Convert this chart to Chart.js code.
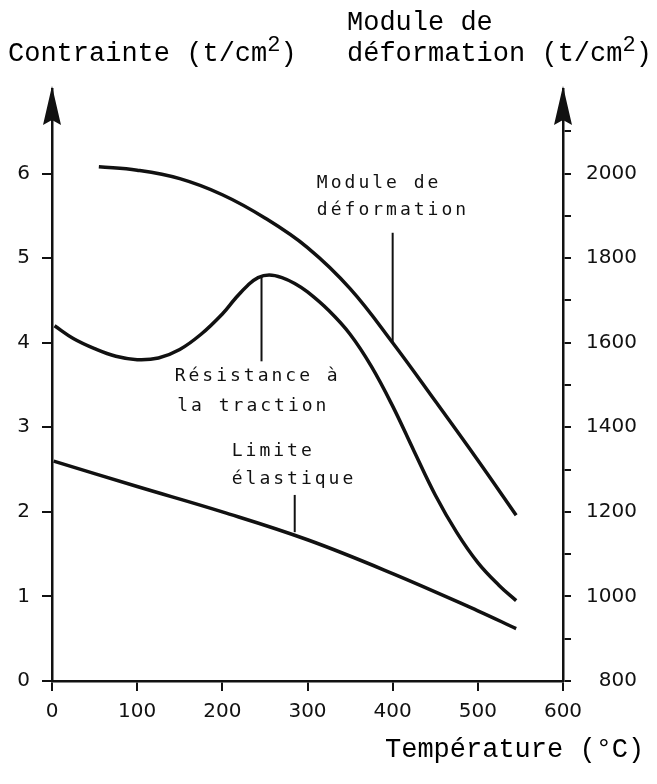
<!DOCTYPE html>
<html>
<head>
<meta charset="utf-8">
<script src="https://cdn.jsdelivr.net/npm/chart.js@4/dist/chart.umd.min.js"></script>
<style>
  html, body { margin: 0; padding: 0; background: #fff; }
  #wrap { position: relative; width: 657px; height: 784px; }
  #c { position: absolute; left: 0; top: 0; }
  .ttl { position: absolute; font-family: "Liberation Mono", monospace; font-size: 27px; line-height: 27px; color: #000; white-space: pre; }
  .ttl sup { font-size: 22px; vertical-align: 0; position: relative; top: -10px; }
</style>
</head>
<body>
<div id="wrap">
  <canvas id="c" width="657" height="784"></canvas>
  <div class="ttl" style="left:8px; top:41px">Contrainte (t/cm<sup>2</sup>)</div>
  <div class="ttl" style="left:347px; top:10px">Module de</div>
  <div class="ttl" style="left:347px; top:41px">déformation (t/cm<sup>2</sup>)</div>
  <div class="ttl" style="left:385px; top:737px">Température (°C)</div>
</div>
<script>
// axes
const tempTicks = [0, 100, 200, 300, 400, 500, 600];
const stressTicks = [0, 1, 2, 3, 4, 5, 6];
const modulusTicks = [800, 900, 1000, 1100, 1200, 1300, 1400, 1500, 1600, 1700, 1800, 1900, 2000, 2100];

// Module de déformation (t/cm2, right axis)
const modulusTemp = [55, 100, 150, 200, 250, 300, 350, 400, 450, 500, 545];
const modulusVals = [2016, 2008, 1988, 1950, 1895, 1825, 1728, 1600, 1462, 1322, 1192];

// Résistance à la traction (t/cm2, left axis)
const tensileTemp = [3, 25, 50, 75, 100, 125, 150, 175, 200, 215, 230, 242, 255, 270, 285, 300, 325, 350, 375, 400, 425, 450, 475, 500, 525, 545];
const tensileVals = [4.2, 4.05, 3.93, 3.84, 3.8, 3.82, 3.92, 4.1, 4.34, 4.52, 4.68, 4.77, 4.8, 4.77, 4.7, 4.6, 4.38, 4.1, 3.72, 3.25, 2.72, 2.2, 1.76, 1.4, 1.13, 0.95];

// Limite élastique (t/cm2, left axis)
const yieldTemp = [2, 100, 200, 300, 400, 500, 545];
const yieldVals = [2.6, 2.3, 2.0, 1.67, 1.27, 0.83, 0.62];

// curve labels, placed in data units (x = °C, y = left axis)
const noteTexts = [
  { x: 311, y: 5.89, text: 'Module de' },
  { x: 311, y: 5.57, text: 'déformation' },
  { x: 144, y: 3.60, text: 'Résistance à' },
  { x: 147, y: 3.25, text: 'la traction' },
  { x: 211, y: 2.71, text: 'Limite' },
  { x: 211, y: 2.38, text: 'élastique' }
];
const noteLeaders = [
  { x: 400, from: 5.30, to: 4.0 },
  { x: 246, from: 4.8, to: 3.78 },
  { x: 285, from: 2.20, to: 1.76 }
];

const ink = '#111';
const pts = (xs, ys) => xs.map((x, i) => ({ x, y: ys[i] }));

const arrowsAndNotes = {
  id: 'arrowsAndNotes',
  afterDraw(chart) {
    const { ctx, chartArea: a, scales } = chart;
    ctx.save();
    ctx.fillStyle = ink;
    [a.left, a.right].forEach(x => {
      ctx.beginPath();
      ctx.moveTo(x, a.top - 3);
      ctx.lineTo(x - 9, a.top + 36);
      ctx.lineTo(x, a.top + 31);
      ctx.lineTo(x + 9, a.top + 36);
      ctx.closePath();
      ctx.fill();
    });

    ctx.strokeStyle = ink;
    ctx.lineWidth = 2;
    noteLeaders.forEach(l => {
      const px = scales.x.getPixelForValue(l.x);
      ctx.beginPath();
      ctx.moveTo(px, scales.y.getPixelForValue(l.from));
      ctx.lineTo(px, scales.y.getPixelForValue(l.to));
      ctx.stroke();
    });

    ctx.font = '18px "DejaVu Sans Mono"';
    ctx.letterSpacing = '3px';
    ctx.textAlign = 'left';
    ctx.textBaseline = 'middle';
    noteTexts.forEach(n => {
      ctx.fillText(n.text, scales.x.getPixelForValue(n.x), scales.y.getPixelForValue(n.y));
    });
    ctx.restore();
  }
};

const tickFont = { family: 'DejaVu Sans', size: 20 };
const curve = { borderColor: ink, borderWidth: 3.5, pointRadius: 0, tension: 0.4, fill: false };

new Chart(document.getElementById('c'), {
  type: 'line',
  data: {
    datasets: [
      { ...curve, label: 'Module de déformation', data: pts(modulusTemp, modulusVals), yAxisID: 'y2' },
      { ...curve, label: 'Résistance à la traction', data: pts(tensileTemp, tensileVals), yAxisID: 'y' },
      { ...curve, label: 'Limite élastique', data: pts(yieldTemp, yieldVals), yAxisID: 'y' }
    ]
  },
  options: {
    responsive: false,
    animation: false,
    layout: { padding: { top: 89, right: 20, left: 0, bottom: 0 } },
    plugins: { legend: { display: false }, tooltip: { enabled: false } },
    scales: {
      x: {
        type: 'linear', min: 0, max: 600,
        afterBuildTicks: s => { s.ticks = tempTicks.map(v => ({ value: v })); },
        afterFit: s => { s.height = 103; },
        border: { color: ink, width: 2.5 },
        grid: { drawOnChartArea: false, color: ink, lineWidth: 2, tickLength: 10 },
        ticks: { color: ink, font: tickFont, padding: 9, maxRotation: 0 }
      },
      y: {
        position: 'left', min: 0, max: 7,
        afterBuildTicks: s => { s.ticks = stressTicks.map(v => ({ value: v })); },
        afterFit: s => { s.width = 52; },
        border: { color: ink, width: 2.5 },
        grid: { drawOnChartArea: false, color: ink, lineWidth: 2, tickLength: 10 },
        ticks: { color: ink, font: tickFont, padding: 12 }
      },
      y2: {
        position: 'right', min: 800, max: 2200,
        afterBuildTicks: s => { s.ticks = modulusTicks.map(v => ({ value: v })); },
        afterFit: s => { s.width = 74; },
        border: { color: ink, width: 2.5 },
        grid: { drawOnChartArea: false, color: ink, lineWidth: 2, tickLength: 8 },
        ticks: { color: ink, font: tickFont, padding: 10, crossAlign: 'far',
          callback: v => (v % 200 === 0 ? String(v) : '') }
      }
    }
  },
  plugins: [arrowsAndNotes]
});
</script>
</body>
</html>
